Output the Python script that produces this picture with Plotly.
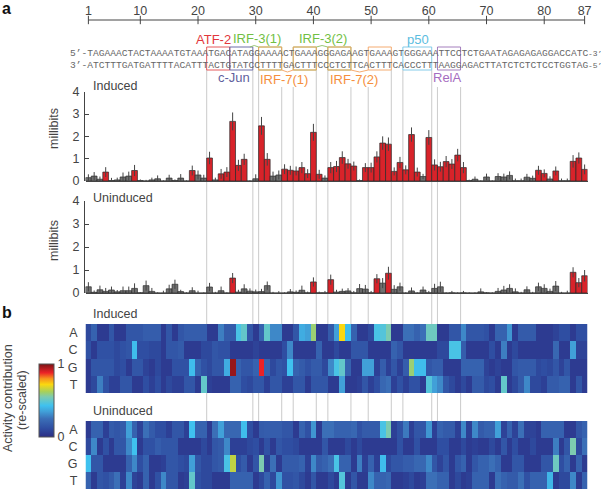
import plotly.graph_objects as go

W = 601
H = 491

# -----------------------------
# Data
# -----------------------------
positions = list(range(1, 88))
ruler_ticks = [1, 10, 20, 30, 40, 50, 60, 70, 80, 87]
bases = ["A", "C", "G", "T"]

top_strand = "TAGAAACTACTAAAATGTAAATGACATAGGAAAACTGAAAGGGAGAAGTGAAAGTGGGAAATTCCTCTGAATAGAGAGAGGACCATC"
bottom_strand = "ATCTTTGATGATTTTACATTTACTGTATCCTTTTGACTTTCCCTCTTCACTTTCACCCTTTAAGGAGACTTATCTCTCTCCTGGTAG"

induced_bits = [
    .15, .22, .08, .40, .02, .05, .18, .22, .47, .02,
    .00, .05, .10, .00, .13, .02, .13, .00, .47, .27,
    .13, 1.03, .05, .32, .40, 2.67, .70, .97, .00, .10,
    2.47, .97, .22, .27, .53, .48, .45, .60, .33, 2.18,
    .30, .13, .60, .65, 1.05, .77, .67, .02, .60, .60,
    1.08, 1.70, 1.65, .43, .83, .50, 2.08, .40, .20, 1.95,
    .72, .64, .87, .76, 1.16, .60, .02, .08, .00, .18,
    .00, .20, .18, .25, .01, .01, .17, .12, .48, .34,
    .09, .45, .01, .01, .88, 1.03, .52,
]
induced_err = [
    .15, .18, .12, .22, .12, .10, .20, .20, .25, .05,
    .05, .10, .15, .03, .15, .05, .18, .03, .22, .20,
    .15, .28, .10, .22, .22, .40, .25, .25, .03, .20,
    .40, .28, .20, .20, .22, .20, .20, .25, .20, .38,
    .20, .12, .25, .25, .28, .22, .20, .05, .20, .22,
    .25, .30, .30, .18, .25, .20, .32, .20, .12, .33,
    .25, .22, .25, .22, .28, .25, .04, .12, .03, .15,
    .03, .15, .15, .18, .10, .10, .15, .12, .20, .18,
    .12, .20, .10, .10, .28, .25, .22,
]
induced_red = [4, 9, 19, 22, 24, 25, 26, 27, 28, 31, 32, 35, 36, 37, 38, 39, 40, 41,
               43, 44, 45, 46, 47, 49, 50, 51, 52, 53, 54, 55, 56, 57, 58,
               60, 61, 62, 63, 64, 65, 66, 79, 80, 82, 85, 86, 87]

uninduced_bits = [
    .27, .03, .14, .07, .13, .05, .10, .10, .20, .01,
    .32, .07, .00, .00, .18, .38, .06, .00, .10, .00,
    .00, .26, .00, .10, .00, .65, .04, .18, .08, .05,
    .06, .32, .00, .00, .00, .05, .03, .12, .01, .48,
    .01, .01, .58, .04, .07, .09, .01, .19, .17, .01,
    .62, .43, .86, .16, .27, .00, .09, .00, .13, .01,
    .20, .27, .00, .01, .00, .01, .00, .00, .05, .01,
    .00, .07, .13, .20, .05, .00, .14, .00, .27, .20,
    .07, .30, .00, .00, .90, .45, .75,
]
uninduced_err = [
    .20, .08, .18, .15, .15, .08, .18, .18, .22, .03,
    .22, .15, .03, .10, .18, .20, .08, .03, .15, .10,
    .03, .18, .05, .18, .03, .22, .10, .20, .12, .10,
    .12, .18, .05, .08, .03, .12, .08, .20, .05, .20,
    .05, .08, .22, .10, .12, .12, .08, .20, .18, .08,
    .20, .22, .28, .18, .18, .03, .15, .03, .15, .08,
    .20, .22, .03, .08, .03, .08, .03, .03, .15, .03,
    .03, .15, .18, .18, .15, .05, .15, .05, .18, .18,
    .12, .22, .05, .10, .22, .20, .25,
]
uninduced_red = [26, 40, 43, 51, 53, 85, 86, 87]

induced_A = [
    .10, .20, .05, .05, .15, .05, .05, .15, .15, .15,
    .18, .18, .18, .05, .15, .05, .15, .18, .18, .18,
    .18, .05, .05, .28, .17, .17, .45, .50, .15, .05,
    .20, .50, .30, .30, .05, .05, .15, .38, .35, .60,
    .05, .05, .17, .35, .72, .42, .20, .05, .05, .10,
    .45, .47, .55, .05, .05, .25, .25, .20, .25, .52,
    .52, .05, .05, .15, .15, .30, .15, .15, .15, .13,
    .05, .20, .20, .33, .05, .17, .17, .17, .05, .05,
    .05, .08, .12, .12, .05, .12, .12,
]
induced_C = [
    .13, .05, .13, .13, .13, .10, .13, .15, .42, .12,
    .12, .10, .10, .05, .15, .15, .17, .05, .05, .05,
    .10, .10, .15, .13, .13, .05, .05, .05, .05, .08,
    .05, .05, .05, .05, .12, .30, .05, .05, .05, .05,
    .20, .05, .05, .10, .05, .05, .15, .15, .15, .05,
    .05, .05, .05, .20, .15, .05, .05, .05, .05, .05,
    .05, .10, .10, .45, .45, .18, .05, .05, .05, .05,
    .12, .05, .28, .05, .10, .05, .05, .05, .05, .05,
    .05, .22, .05, .05, .35, .08, .08,
]
induced_G = [
    .05, .15, .15, .15, .15, .10, .12, .05, .15, .15,
    .08, .05, .10, .05, .05, .13, .13, .13, .42, .20,
    .13, .10, .15, .15, .38, .97, .20, .15, .15, .20,
    .88, .20, .10, .15, .13, .43, .20, .17, .13, .17,
    .17, .10, .30, .45, .50, .20, .05, .05, .35, .35,
    .07, .18, .07, .15, .07, .18, .60, .42, .42, .15,
    .18, .18, .05, .05, .05, .20, .20, .20, .20, .08,
    .05, .08, .05, .05, .15, .17, .17, .17, .10, .12,
    .10, .15, .08, .15, .05, .05, .05,
]
induced_T = [
    .05, .10, .28, .13, .07, .07, .15, .15, .05, .05,
    .12, .07, .12, .05, .10, .07, .07, .15, .15, .05,
    .50, .07, .05, .05, .05, .20, .20, .12, .10, .15,
    .15, .07, .15, .15, .07, .07, .15, .15, .05, .15,
    .15, .15, .05, .05, .35, .05, .05, .07, .15, .07,
    .12, .22, .25, .07, .13, .07, .13, .13, .05, .47,
    .35, .30, .15, .10, .05, .10, .05, .17, .17, .10,
    .12, .05, .50, .05, .10, .17, .30, .10, .10, .07,
    .17, .17, .20, .20, .05, .15, .05,
]
uninduced_A = [
    .05, .20, .20, .07, .17, .15, .17, .35, .20, .08,
    .25, .17, .12, .12, .07, .15, .15, .07, .43, .20,
    .20, .05, .25, .35, .22, .22, .22, .42, .12, .05,
    .17, .18, .18, .18, .15, .15, .05, .20, .13, .33,
    .05, .25, .25, .20, .20, .20, .22, .13, .17, .17,
    .17, .45, .55, .07, .13, .27, .07, .15, .15, .33,
    .07, .20, .17, .17, .07, .30, .07, .30, .17, .20,
    .20, .35, .08, .20, .08, .25, .08, .08, .05, .20,
    .20, .20, .20, .05, .05, .15, .20,
]
uninduced_C = [
    .10, .30, .05, .13, .05, .15, .15, .30, .43, .05,
    .13, .13, .18, .15, .15, .15, .05, .05, .05, .05,
    .10, .05, .15, .17, .30, .07, .07, .07, .10, .12,
    .05, .13, .05, .15, .12, .12, .10, .05, .05, .05,
    .05, .15, .05, .05, .05, .10, .05, .10, .05, .05,
    .05, .05, .05, .05, .13, .05, .05, .13, .05, .05,
    .05, .12, .12, .05, .05, .10, .05, .07, .05, .05,
    .10, .05, .15, .05, .12, .05, .05, .10, .05, .05,
    .05, .28, .05, .15, .55, .10, .25,
]
uninduced_G = [
    .43, .15, .15, .05, .05, .05, .05, .20, .30, .12,
    .20, .05, .05, .07, .15, .15, .12, .10, .35, .15,
    .10, .10, .15, .17, .45, .65, .12, .17, .05, .15,
    .55, .07, .25, .05, .17, .17, .17, .20, .07, .30,
    .17, .20, .25, .45, .20, .20, .05, .28, .07, .20,
    .07, .42, .10, .15, .15, .18, .18, .22, .22, .30,
    .15, .08, .15, .05, .15, .20, .05, .15, .20, .20,
    .25, .20, .05, .05, .15, .15, .05, .05, .05, .15,
    .15, .52, .12, .20, .05, .20, .05,
]
uninduced_T = [
    .20, .05, .15, .13, .17, .25, .07, .30, .08, .05,
    .20, .05, .13, .30, .15, .15, .05, .07, .50, .13,
    .10, .10, .05, .05, .05, .20, .20, .20, .20, .05,
    .10, .20, .10, .33, .13, .13, .15, .10, .05, .15,
    .05, .05, .10, .05, .47, .05, .15, .05, .05, .30,
    .20, .20, .22, .05, .05, .07, .10, .05, .07, .25,
    .25, .20, .20, .05, .10, .05, .07, .20, .20, .20,
    .05, .25, .20, .17, .17, .25, .13, .20, .20, .20,
    .40, .05, .10, .10, .30, .05, .20,
]

# sites: first boundary, last boundary, colour
site_boxes = [
    (21.5, 25.5, "#e2474b"),
    (25.5, 29.5, "#5f5f9e"),
    (30.5, 34.5, "#8cc063"),
    (30.5, 34.5, "#f3a261"),
    (36.5, 40.5, "#8cc063"),
    (36.5, 40.5, "#f3a261"),
    (42.5, 46.5, "#8cc063"),
    (42.5, 46.5, "#f3a261"),
    (49.5, 53.5, "#f3a261"),
    (55.5, 60.5, "#76c6e6"),
    (61.5, 65.5, "#9a70b5"),
]
site_lines = [21.5, 29.5, 30.5, 34.5, 36.5, 40.5, 42.5, 46.5, 49.5, 53.5, 55.5, 60.5, 61.5, 65.5]
short_lines = [34.5, 36.5, 46.5, 49.5, 61.5, 65.5]


# -----------------------------
# Pixel helpers
# -----------------------------
def px(x):
    return x / W


def py(y):
    return 1 - y / H


X0, X1 = 85.5, 587.5
FONT = "Liberation Sans"
GREY = "#444444"

colorscale = [
    [0.0, "#2b2d84"], [0.12, "#2f4ea2"], [0.25, "#3b6fb7"], [0.35, "#41a0d8"],
    [0.43, "#3fc1ef"], [0.55, "#7dcbb0"], [0.62, "#a7d05b"], [0.72, "#fbd80f"],
    [0.80, "#f7931d"], [0.88, "#ec2227"], [1.0, "#7a1315"],
]

fig = go.Figure()

# -----------------------------
# Ruler
# -----------------------------
fig.add_trace(go.Scatter(
    x=ruler_ticks, y=[0] * len(ruler_ticks), xaxis="x", yaxis="y",
    mode="lines+markers",
    line=dict(color="#444444", width=1),
    marker=dict(symbol="line-ns", size=6, line=dict(color="#444444", width=1)),
    cliponaxis=False, showlegend=False,
))
fig.add_trace(go.Scatter(
    x=ruler_ticks, y=[1] * len(ruler_ticks), xaxis="x", yaxis="y",
    mode="text", text=[str(t) for t in ruler_ticks], textposition="top center",
    textfont=dict(size=12.5, color=GREY, family=FONT),
    cliponaxis=False, showlegend=False,
))


# -----------------------------
# Bars
# -----------------------------
def add_bars(values, errors, red, n):
    fig.add_trace(go.Bar(
        x=positions, y=values, xaxis=f"x{n}", yaxis=f"y{n}", width=1,
        marker=dict(color=["#d8232a" if p in red else "#707070" for p in positions],
                    line=dict(color="#2a2a2a", width=0.7)),
        error_y=dict(type="data", array=errors, thickness=1, width=0, color="#444444"),
        showlegend=False,
    ))


add_bars(induced_bits, induced_err, induced_red, 2)
add_bars(uninduced_bits, uninduced_err, uninduced_red, 3)

# -----------------------------
# Heatmaps
# -----------------------------
fig.add_trace(go.Heatmap(
    x=positions, y=bases, z=[induced_A, induced_C, induced_G, induced_T],
    xaxis="x4", yaxis="y4", coloraxis="coloraxis",
))
fig.add_trace(go.Heatmap(
    x=positions, y=bases, z=[uninduced_A, uninduced_C, uninduced_G, uninduced_T],
    xaxis="x5", yaxis="y5", coloraxis="coloraxis",
))

# -----------------------------
# Axes
# -----------------------------
hidden_x = dict(domain=[px(X0), px(X1)], range=[0.5, 87.5], showticklabels=False, ticks="", showgrid=False, zeroline=False)


def bar_y(top, bottom):
    return dict(
        domain=[py(bottom), py(top)], range=[0, 4], anchor="free", position=px(84),
        tickvals=[0, 1, 2, 3, 4], ticks="inside", ticklen=4, tickcolor="#444444",
        showline=True, linecolor="#444444", linewidth=1, showgrid=False, zeroline=False,
        ticklabelstandoff=2,
        tickfont=dict(size=12.5, color=GREY, family=FONT),
    )


def heat_y(top, bottom):
    return dict(
        domain=[py(bottom), py(top)], autorange="reversed", anchor="free", position=px(77.5),
        ticks="", showgrid=False, zeroline=False, showline=False,
        tickfont=dict(size=12.5, color=GREY, family=FONT),
    )


fig.update_layout(
    width=W, height=H,
    margin=dict(l=0, r=0, t=0, b=0, autoexpand=False),
    paper_bgcolor="white", plot_bgcolor="rgba(0,0,0,0)",
    font=dict(family=FONT, color=GREY),
    barmode="overlay",
    xaxis=dict(hidden_x, visible=False),
    yaxis=dict(domain=[py(22), py(18)], range=[-1, 1], visible=False),
    xaxis2=dict(hidden_x, anchor="y2", showline=True, linecolor="#444444", linewidth=1),
    yaxis2=bar_y(91.7, 181),
    xaxis3=dict(hidden_x, anchor="y3", showline=True, linecolor="#444444", linewidth=1),
    yaxis3=bar_y(201, 293),
    xaxis4=dict(hidden_x, anchor="y4"),
    yaxis4=heat_y(324, 393),
    xaxis5=dict(hidden_x, anchor="y5"),
    yaxis5=heat_y(421, 489),
    coloraxis=dict(
        cmin=0, cmax=1, colorscale=colorscale,
        colorbar=dict(
            x=px(39), xanchor="left", y=py(437), yanchor="bottom",
            lenmode="pixels", len=73, thicknessmode="pixels", thickness=15,
            tickvals=[0, 1], ticklabelposition="outside left", ticks="",
            tickfont=dict(size=12.5, color=GREY, family=FONT),
            outlinecolor="#555555", outlinewidth=1, xpad=0, ypad=0,
        ),
    ),
)

# -----------------------------
# Shapes: guide lines and site boxes
# -----------------------------
for b in site_lines:
    start = 87 if b in short_lines else 70
    for y0, y1 in [(start, 324), (393, 421)]:
        fig.add_shape(type="line", xref="x", yref="paper", layer="below",
                      x0=b, x1=b, y0=py(y0), y1=py(y1),
                      line=dict(color="#cfcfcf", width=1.1))

for b0, b1, col in site_boxes:
    fig.add_shape(type="rect", xref="x", yref="paper",
                  x0=b0, x1=b1, y0=py(70), y1=py(47),
                  line=dict(color=col, width=0.9))

# small chevrons between the IRF sites and their labels
chevrons = [
    (29.0, 30.5, 47, 45.5, "#8cc063"), (40.5, 42.5, 47, 45.5, "#8cc063"),
    (34.5, 36.5, 70, 72, "#f3a261"), (46.5, 49.5, 70, 72, "#f3a261"),
]
for b0, b1, y_edge, y_peak, col in chevrons:
    mid = (b0 + b1) / 2
    fig.add_shape(type="path", xref="x", yref="paper",
                  path=f"M {b0} {py(y_edge)} L {mid} {py(y_peak)} L {b1} {py(y_edge)}",
                  line=dict(color=col, width=0.9))


# -----------------------------
# Text
# -----------------------------
def label(text, x, y, size=12.5, color=GREY, anchor="center", angle=0, family=FONT):
    fig.add_annotation(text=text, x=px(x), y=py(y), xref="paper", yref="paper",
                       showarrow=False, xanchor=anchor, yanchor="middle", textangle=angle,
                       font=dict(size=size, color=color, family=family))


label("<b>a</b>", 0, 9, size=16, color="#111111", anchor="left")
label("<b>b</b>", 0, 312, size=16, color="#111111", anchor="left")

label("5’-" + top_strand, 68, 54, size=9.6, color="#666666", anchor="left", family="Liberation Mono")
label("3’-" + bottom_strand, 68, 65, size=9.6, color="#666666", anchor="left", family="Liberation Mono")
label("-3’", 585.5, 54, size=8, color="#666666", anchor="left", family="Liberation Mono")
label("-5’", 585.5, 65, size=8, color="#666666", anchor="left", family="Liberation Mono")

label("ATF-2", 213, 39, size=13, color="#e2373c")
label("IRF-3(1)", 257, 38, size=13, color="#72bf44")
label("IRF-3(2)", 323, 38, size=13, color="#72bf44")
label("p50", 418, 40, size=13, color="#5bbde0")
label("c-Jun", 234, 78, size=13, color="#5f5f9e")
label("IRF-7(1)", 284, 79, size=13, color="#f58f3d")
label("IRF-7(2)", 354, 79, size=13, color="#f58f3d")
label("RelA", 447, 78, size=13, color="#a56cc0")

label("Induced", 91, 86, anchor="left")
label("Uninduced", 91, 198, anchor="left")
label("Induced", 91, 313.5, anchor="left")
label("Uninduced", 91, 411, anchor="left")

label("millibits", 54, 129, angle=-90)
label("millibits", 54, 241, angle=-90)
label("Activity contribution", 8, 398, angle=-90)
label("(re-scaled)", 22, 400, angle=-90)

fig.write_html("out.html", config=dict(displayModeBar=False), post_script="document.body.style.margin='0';")
